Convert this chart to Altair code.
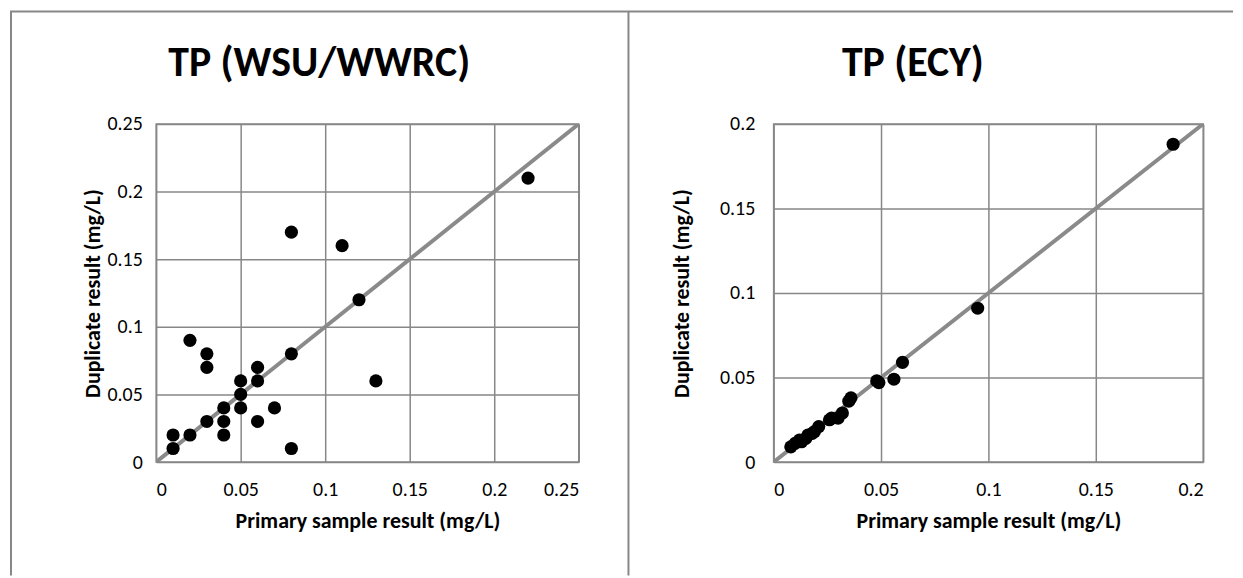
import altair as alt
import pandas as pd

FONT = "Carlito, Calibri, Lato, sans-serif"
GRAY = "#878787"

# Left panel: TP (WSU/WWRC)
wsu_primary = [0.22, 0.08, 0.11, 0.12, 0.02, 0.03, 0.03, 0.08, 0.06, 0.05, 0.06, 0.13,
               0.05, 0.04, 0.05, 0.07, 0.03, 0.04, 0.06, 0.04, 0.01, 0.02, 0.01, 0.08]
wsu_duplicate = [0.21, 0.17, 0.16, 0.12, 0.09, 0.08, 0.07, 0.08, 0.07, 0.06, 0.06, 0.06,
                 0.05, 0.04, 0.04, 0.04, 0.03, 0.03, 0.03, 0.02, 0.02, 0.02, 0.01, 0.01]
wsu_ticks = [0, 0.05, 0.1, 0.15, 0.2, 0.25]
wsu_line = [0, 0.25]

# Right panel: TP (ECY)
ecy_primary = [0.186, 0.095, 0.060, 0.056, 0.048, 0.049, 0.036, 0.035, 0.032, 0.030, 0.027,
               0.026, 0.021, 0.019, 0.018, 0.016, 0.015, 0.013, 0.012, 0.010, 0.008]
ecy_duplicate = [0.188, 0.091, 0.059, 0.049, 0.048, 0.047, 0.038, 0.036, 0.029, 0.026, 0.026,
                 0.025, 0.021, 0.018, 0.017, 0.016, 0.014, 0.012, 0.013, 0.011, 0.009]
ecy_ticks = [0, 0.05, 0.1, 0.15, 0.2]
ecy_line = [0, 0.2]

titles = ["TP (WSU/WWRC)", "TP (ECY)"]
x_title = "Primary sample result (mg/L)"
y_title = "Duplicate result (mg/L)"

LABEL_SIZE = 20
AXIS_TITLE_SIZE = 22


def panel(title, xs, ys, ticks, line, width, title_x, ylab_pad, ytitle_pad, decor):
    dom = [ticks[0], ticks[-1]]
    xsc = alt.Scale(domain=dom, nice=False, zero=True)
    ysc = alt.Scale(domain=dom, nice=False, zero=True)
    common = dict(values=ticks, format=".2~f", grid=True, domain=False, ticks=False,
                  labelFont=FONT, labelFontSize=LABEL_SIZE, labelColor="black",
                  titleFont=FONT, titleFontSize=AXIS_TITLE_SIZE, titleFontWeight="bold",
                  titleColor="black", gridColor=GRAY, gridWidth=1.5, gridOpacity=1)
    xaxis = alt.Axis(title=x_title, labelPadding=18, titlePadding=11, **common)
    yaxis = alt.Axis(title=y_title, labelPadding=ylab_pad, titlePadding=ytitle_pad, **common)
    pts = pd.DataFrame({"p": xs, "d": ys})
    ln = pd.DataFrame({"p": line, "d": line})
    diag = alt.Chart(ln).mark_line(color="#8a8a8a", strokeWidth=4, clip=True).encode(
        x=alt.X("p:Q", scale=xsc, axis=xaxis),
        y=alt.Y("d:Q", scale=ysc, axis=yaxis),
    )
    dots = alt.Chart(pts).mark_circle(color="black", opacity=1, size=175).encode(
        x=alt.X("p:Q", scale=xsc),
        y=alt.Y("d:Q", scale=ysc),
    )
    ttl = alt.Chart(alt.Data(values=[{"t": title}])).mark_text(
        font=FONT, fontSize=42, fontWeight="bold", color="black",
        align="center", baseline="alphabetic",
    ).encode(text="t:N", x=alt.value(title_x), y=alt.value(-48))
    layers = [diag, dots, ttl] + decor
    return alt.layer(*layers).properties(width=width, height=340)


blank = alt.Data(values=[{"k": 1}])
left_border = alt.Chart(blank).mark_rule(color=GRAY, strokeWidth=2).encode(
    x=alt.value(-146), y=alt.value(-113), y2=alt.value(454))
top_border = alt.Chart(blank).mark_rule(color=GRAY, strokeWidth=2).encode(
    x=alt.value(-147), x2=alt.value(1083), y=alt.value(-113))
divider = alt.Chart(blank).mark_rule(color=GRAY, strokeWidth=2).encode(
    x=alt.value(475), y=alt.value(-113), y2=alt.value(454))

left = panel(titles[0], wsu_primary, wsu_duplicate, wsu_ticks, wsu_line, 425,
             164, 14, 3, [left_border, top_border, divider])
right = panel(titles[1], ecy_primary, ecy_duplicate, ecy_ticks, ecy_line, 432,
              140, 19, 26, [])

chart = alt.hconcat(left, right, spacing=196, bounds="flush").configure(
    font=FONT,
    padding=0,
).configure_view(
    stroke=GRAY, strokeWidth=1.5,
)

chart.save("out.html", embed_options={"renderer": "svg", "actions": False})
